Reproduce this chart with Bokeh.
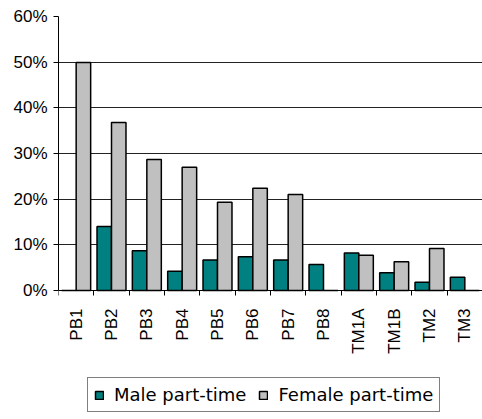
from bokeh.plotting import figure
from bokeh.models import (ColumnDataSource, FixedTicker, PrintfTickFormatter,
                          Range1d, Legend, LegendItem)
from bokeh.embed import file_html
from bokeh.resources import INLINE
import math

categories = ["PB1", "PB2", "PB3", "PB4", "PB5", "PB6", "PB7", "PB8",
              "TM1A", "TM1B", "TM2", "TM3"]
male = [0, 14.0, 8.7, 4.2, 6.7, 7.4, 6.7, 5.7, 8.2, 3.9, 1.8, 2.9]
female = [49.9, 36.8, 28.7, 27.0, 19.3, 22.4, 21.0, 0, 7.7, 6.3, 9.2, 0]
y_ticks = [0, 10, 20, 30, 40, 50, 60]

# layout geometry (pixels)
W, H = 482, 419
top_px, zero_px = 16, 290          # screen y of 60% and of 0%
ymax = 60
ymin = -ymax * (H - zero_px) / (zero_px - top_px)   # frame extends to canvas bottom

n = len(categories)
centers = [i + 0.5 for i in range(n)]
bw = 0.41
src = ColumnDataSource(dict(
    xm=[c - bw / 2 for c in centers],
    xf=[c + bw / 2 for c in centers],
    male=male, female=female))

p = figure(width=W, height=H, output_backend="svg", toolbar_location=None,
           x_range=Range1d(0, n), y_range=Range1d(ymin, ymax),
           min_border_left=58, min_border_right=0, min_border_top=top_px,
           min_border_bottom=0)
p.outline_line_color = None
p.background_fill_color = "white"

rm = p.vbar(x="xm", top="male", width=bw, source=src, fill_color="#008080",
            line_color="black", line_width=1.5)
rf = p.vbar(x="xf", top="female", width=bw, source=src, fill_color="#C0C0C0",
            line_color="black", line_width=1.5)

# y axis
p.yaxis.ticker = FixedTicker(ticks=y_ticks)
p.yaxis.bounds = (0, ymax)
p.yaxis.formatter = PrintfTickFormatter(format="%d%%")
p.yaxis.major_label_text_font = "Liberation Sans"
p.yaxis.major_label_text_font_size = "17px"
p.yaxis.major_label_text_color = "black"
p.yaxis.axis_line_color = "black"
p.yaxis.major_tick_line_color = "black"
p.yaxis.major_tick_out = 5
p.yaxis.major_tick_in = 0
p.yaxis.minor_tick_line_color = None
p.yaxis.major_label_standoff = 6

# x axis: drawn at 0, labels at centres, ticks at boundaries
p.xaxis.fixed_location = 0
p.xaxis.ticker = FixedTicker(ticks=centers, minor_ticks=list(range(n + 1)))
p.xaxis.major_label_overrides = {c: lab for c, lab in zip(centers, categories)}
p.xaxis.major_label_orientation = math.pi / 2
p.xaxis.major_label_text_font = "Liberation Sans"
p.xaxis.major_label_text_font_size = "17px"
p.xaxis.major_label_text_color = "black"
p.xaxis.major_tick_line_color = None
p.xaxis.minor_tick_line_color = "black"
p.xaxis.minor_tick_out = 5
p.xaxis.minor_tick_in = 0
p.xaxis.axis_line_color = "black"
p.xaxis.major_label_standoff = 12

p.xgrid.grid_line_color = None
p.ygrid.ticker = FixedTicker(ticks=y_ticks[1:])
p.ygrid.grid_line_color = "#222222"
p.ygrid.grid_line_width = 1

legend = Legend(items=[LegendItem(label="Male part-time", renderers=[rm]),
                       LegendItem(label="Female part-time", renderers=[rf])],
                orientation="horizontal", location=(29, 7),
                label_text_font="DejaVu Sans", label_text_font_size="18px",
                label_text_color="black",
                glyph_width=10, glyph_height=10, label_height=16,
                label_standoff=10, spacing=12, padding=6, margin=0,
                border_line_color="black", border_line_width=1,
                background_fill_color="white", background_fill_alpha=1)
p.add_layout(legend, "center")

open("out.html", "w").write(file_html(p, INLINE))
